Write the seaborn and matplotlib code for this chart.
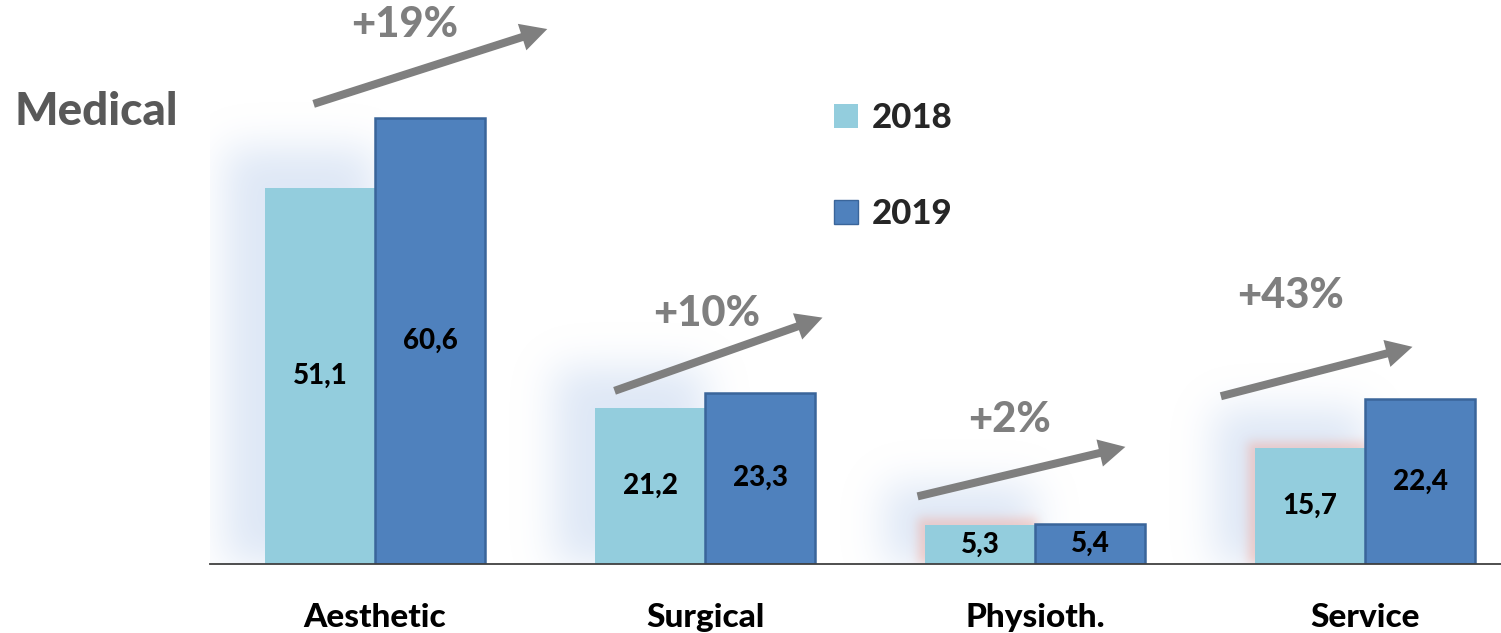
import numpy as np
import pandas as pd
import matplotlib
matplotlib.use("Agg")
import matplotlib.pyplot as plt
from matplotlib.patches import Rectangle, FancyArrowPatch
import seaborn as sns

# data
categories = ["Aesthetic", "Surgical", "Physioth.", "Service"]
years = ["2018", "2019"]
values_2018 = [51.1, 21.2, 5.3, 15.7]
values_2019 = [60.6, 23.3, 5.4, 22.4]

# layout of the growth arrows (data coords: x = category index, y = value)
arrow_start = [(-0.194, 62.4), (0.718, 23.4), (1.636, 9.1), (2.555, 22.7)]
arrow_end = [(0.530, 72.8), (1.364, 33.6), (2.282, 16.0), (3.152, 29.6)]
pct_pos = [(0.091, 73.2), (1.006, 33.9), (1.924, 19.6), (2.773, 36.4)]

C18 = "#93CDDD"
C19 = "#4F81BD"
EDGE19 = "#3A659A"
GREY = "#7F7F7F"
FONT = ["Lato", "DejaVu Sans"]
PX_X = 330.0   # pixels per category
PX_Y = 7.36    # pixels per unit
YMAX = 564 / PX_Y

sns.set_style("white")
plt.rcParams["font.family"] = FONT

df = pd.DataFrame({
    "category": categories * 2,
    "year": [years[0]] * 4 + [years[1]] * 4,
    "value": values_2018 + values_2019,
})

fig = plt.figure(figsize=(15.01, 6.33), dpi=100)
ax = fig.add_axes([210 / 1501, 69 / 633, 1320 / 1501, 564 / 633])

sns.barplot(data=df, x="category", y="value", hue="year",
            palette=[C18, C19], width=2 / 3, gap=0, linewidth=0,
            saturation=1, ax=ax, legend=False, zorder=2)


def blur(a, sigma):
    r = int(3 * sigma)
    k = np.exp(-np.arange(-r, r + 1) ** 2 / (2 * sigma ** 2))
    k /= k.sum()
    a = np.apply_along_axis(lambda row: np.convolve(row, k, mode="same"), 1, a)
    a = np.apply_along_axis(lambda col: np.convolve(col, k, mode="same"), 0, a)
    return a


# soft glow behind the bars (the office-style shadow effect)
W, H = int(4 * PX_X), 564
shadow = np.zeros((H, W))
redglow = np.zeros((H, W))
for i, v18 in enumerate(values_2018):
    left = int((i - 1 / 3 + 0.5) * PX_X)
    top = int(v18 * PX_Y)
    shadow[0:min(H, top + 40), max(0, left - 40):left + 110] = 1.0
    if i >= 2:
        redglow[0:top + 7, left - 7:left + 112] = 1.0
shadow = blur(shadow, 20)
redglow = blur(redglow, 5)

img = np.zeros((H, W, 4))
img[..., :3] = np.array([172, 196, 232]) / 255
img[..., 3] = shadow * 0.4
ax.imshow(img, extent=(-0.5, 3.5, 0, YMAX), origin="lower", aspect="auto",
          zorder=0.5, interpolation="bilinear")
img2 = np.zeros((H, W, 4))
img2[..., :3] = np.array([240, 170, 158]) / 255
img2[..., 3] = redglow * 0.5
ax.imshow(img2, extent=(-0.5, 3.5, 0, YMAX), origin="lower", aspect="auto",
          zorder=0.6, interpolation="bilinear")
ax.set_xlim(-0.5, 3.5)
ax.set_ylim(0, YMAX)

for bar in ax.containers[1]:
    bar.set_edgecolor(EDGE19)
    bar.set_linewidth(1.8)

for cont, vals in zip(ax.containers, [values_2018, values_2019]):
    ax.bar_label(cont, labels=[f"{v:.1f}".replace(".", ",") for v in vals],
                 label_type="center", fontsize=20, fontweight="black",
                 color="black", family=FONT)

# growth arrows + percentages
for (xs, ys), (xe, ye), (xt, yt), v18, v19 in zip(arrow_start, arrow_end, pct_pos,
                                                 values_2018, values_2019):
    ax.add_patch(FancyArrowPatch((xs, ys), (xe, ye),
                                 arrowstyle="simple,head_length=0.95,head_width=1.0,tail_width=0.29",
                                 mutation_scale=20, color=GREY, lw=0, zorder=4))
    pct = round((v19 / v18 - 1) * 100)
    ax.text(xt, yt, f"+{pct}%", ha="center", va="center", fontsize=30,
            fontweight="black", color=GREY)

# axis styling
for side in ["left", "top", "right"]:
    ax.spines[side].set_visible(False)
ax.spines["bottom"].set_color("#404040")
ax.spines["bottom"].set_linewidth(1.3)
ax.set_yticks([])
ax.set_xticks(range(len(categories)))
ax.set_xticklabels(categories, fontsize=24, fontweight="black", color="black")
ax.set_xticks(np.arange(-0.5, 4, 1), minor=True)
ax.tick_params(axis="x", which="major", length=0, pad=28)
ax.tick_params(axis="x", which="minor", length=10, width=1.3, color="#404040",
               direction="out")
ax.set_xlabel("")
ax.set_ylabel("")

fig.text(14 / 1501, 1 - 112 / 633, "Medical", ha="left", va="center",
         fontsize=33, fontweight="black", color="#595959")

handles = [Rectangle((0, 0), 1, 1, facecolor=C18, lw=0),
           Rectangle((0, 0), 1, 1, facecolor=C19, edgecolor=EDGE19, lw=1)]
fig.legend(handles, years, loc="upper left", bbox_to_anchor=(834 / 1501, 1 - 102 / 633),
           frameon=False, prop={"weight": "black", "size": 25},
           handlelength=0.7, handleheight=0.7, handletextpad=0.4,
           labelspacing=1.85, borderpad=0, borderaxespad=0)

fig.savefig("out.png", dpi=100, facecolor="white")
